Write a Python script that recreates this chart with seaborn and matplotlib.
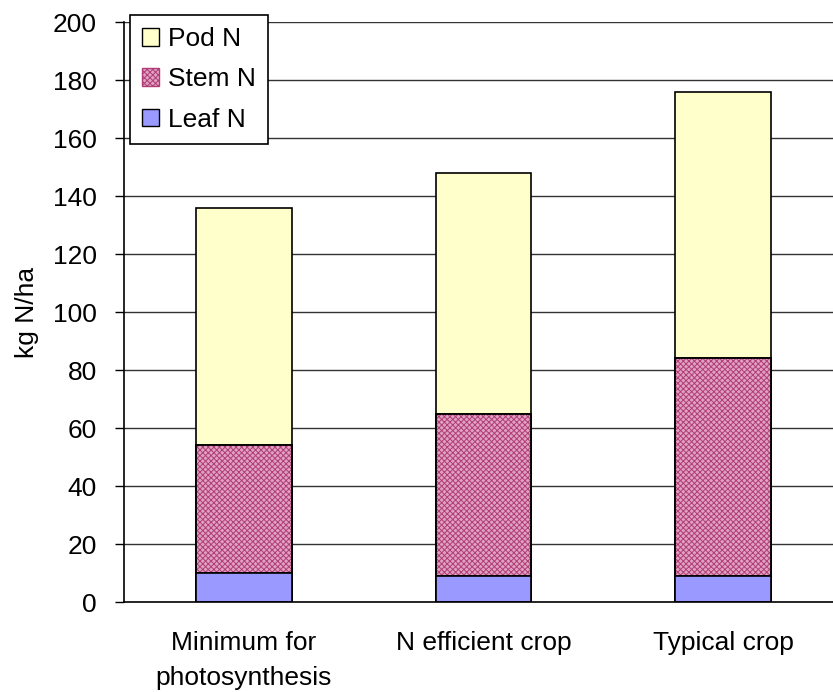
import matplotlib
matplotlib.use("Agg")
import matplotlib.pyplot as plt
import seaborn as sns
import pandas as pd
import numpy as np
from matplotlib.patches import Patch

categories = ["Minimum for\nphotosynthesis", "N efficient crop", "Typical crop"]
leaf_n = [10, 9, 9]
stem_n = [44, 56, 75]
pod_n = [82, 83, 92]
yticks = [0, 20, 40, 60, 80, 100, 120, 140, 160, 180, 200]

sns.set_theme(style="white")
plt.rcParams['font.family'] = ['Liberation Sans', 'DejaVu Sans']
plt.rcParams['hatch.linewidth'] = 0.7
plt.rcParams['text.color'] = 'black'
plt.rcParams['axes.labelcolor'] = 'black'
plt.rcParams['xtick.color'] = 'black'
plt.rcParams['ytick.color'] = 'black'

FS = 19

df = pd.DataFrame({"cat": categories, "leaf": leaf_n, "stem": stem_n, "pod": pod_n})
df["stem_top"] = df["leaf"] + df["stem"]
df["total"] = df["stem_top"] + df["pod"]

fig = plt.figure(figsize=(8.33, 6.92), dpi=100)
ax = fig.add_axes([0.149, 0.130, 0.863, 0.838])

for y in yticks[1:]:
    ax.axhline(y, color="#333333", lw=1.0, zorder=0)

pod_c = "#ffffcc"
stem_c = "#e0a2c0"
hatch_c = "#b03c78"
leaf_c = "#9999ff"

sns.barplot(data=df, x="cat", y="total", color=pod_c, width=0.4, ax=ax,
            edgecolor="black", linewidth=1.2, saturation=1, zorder=2)
sns.barplot(data=df, x="cat", y="stem_top", color=stem_c, width=0.4, ax=ax,
            edgecolor="black", linewidth=1.2, saturation=1, zorder=3)
# hatch overlay for the checker texture of Stem N
ax.bar(np.arange(len(categories)), df["stem"], bottom=df["leaf"], width=0.4,
       color="none", edgecolor=hatch_c, hatch="xxxxxx", linewidth=0, zorder=4)
ax.bar(np.arange(len(categories)), df["stem"], bottom=df["leaf"], width=0.4,
       color="none", edgecolor="black", linewidth=1.2, zorder=5)
sns.barplot(data=df, x="cat", y="leaf", color=leaf_c, width=0.4, ax=ax,
            edgecolor="black", linewidth=1.2, saturation=1, zorder=6)

ax.set_ylim(0, 200)
ax.set_xlim(-0.5, 2.5)
ax.set_yticks(yticks)
ax.set_yticklabels([str(t) for t in yticks], fontsize=FS)
ax.set_xticks(range(len(categories)))
ax.set_xticklabels(categories, fontsize=FS, linespacing=1.55)
ax.set_xticks([-0.5, 0.5, 1.5, 2.5], minor=True)
ax.tick_params(axis="x", which="major", length=0, pad=21)
ax.tick_params(axis="x", which="minor", length=6.5, width=1, color="black", direction="out")
ax.tick_params(axis="y", length=6.5, width=1, color="black", direction="out", left=True, pad=13)
ax.set_xlabel("")
ax.set_ylabel("kg N/ha", fontsize=FS, labelpad=10)

for s in ["top", "right"]:
    ax.spines[s].set_visible(False)
for s in ["left", "bottom"]:
    ax.spines[s].set_color("black")
    ax.spines[s].set_linewidth(1.2)
    ax.spines[s].set_zorder(10)

handles = [
    Patch(facecolor=pod_c, edgecolor="black", label="Pod N"),
    Patch(facecolor=stem_c, edgecolor=hatch_c, hatch="xxxxxx", label="Stem N"),
    Patch(facecolor=leaf_c, edgecolor="black", label="Leaf N"),
]
leg = ax.legend(handles=handles, loc="upper left", bbox_to_anchor=(0.008, 1.012),
                fontsize=FS, frameon=True, fancybox=False, framealpha=1,
                edgecolor="black", handlelength=0.65, handleheight=0.65,
                handletextpad=0.35, borderpad=0.45, labelspacing=0.62, borderaxespad=0)
leg.get_frame().set_linewidth(1.2)
leg.set_zorder(20)

fig.savefig("out.png", dpi=100)
